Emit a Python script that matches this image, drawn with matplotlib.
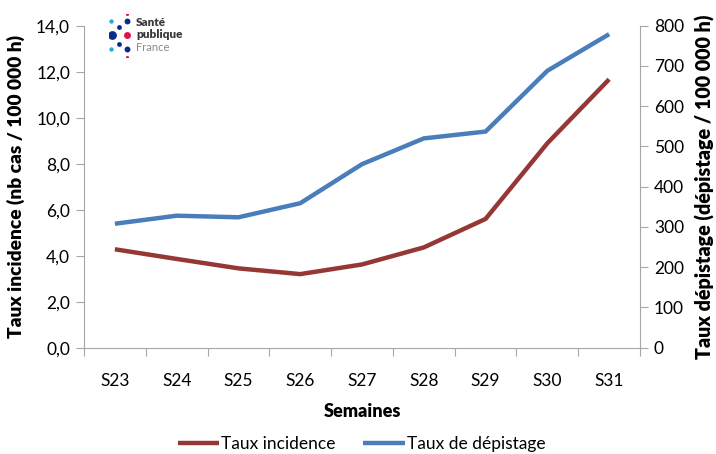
import numpy as np
import matplotlib
matplotlib.use("Agg")
import matplotlib.pyplot as plt
from matplotlib.ticker import FuncFormatter, MultipleLocator

semaines = ["S23", "S24", "S25", "S26", "S27", "S28", "S29", "S30", "S31"]
taux_incidence = [4.28, 3.86, 3.45, 3.20, 3.62, 4.36, 5.60, 8.89, 11.67]
taux_depistage = [308, 328, 324, 359, 456, 520, 537, 688, 779]

rouge = "#953735"
bleu = "#4a7ebb"
gris = "#a6a6a6"

plt.rcParams["font.family"] = ["Lato", "DejaVu Sans"]

fig = plt.figure(figsize=(7.16, 4.54), dpi=100)
ax = fig.add_axes([0.1173, 0.2341, 0.7766, 0.7093])
ax2 = ax.twinx()

x = np.arange(len(semaines))
l1, = ax.plot(x, taux_incidence, color=rouge, lw=3.2, solid_capstyle="butt", label="Taux incidence")
l2, = ax2.plot(x, taux_depistage, color=bleu, lw=3.2, solid_capstyle="butt", label="Taux de dépistage")

ax.set_xlim(-0.5, len(semaines) - 0.5)
ax.set_ylim(0, 14)
ax2.set_ylim(0, 800)
ax.yaxis.set_major_locator(MultipleLocator(2))
ax2.yaxis.set_major_locator(MultipleLocator(100))
ax.yaxis.set_major_formatter(FuncFormatter(lambda v, p: f"{v:.1f}".replace(".", ",")))

# ticks entre les categories, etiquettes au centre
ax.set_xticks(np.arange(-0.5, len(semaines), 1))
ax.set_xticklabels([])
ax.set_xticks(x, minor=True)
ax.set_xticklabels(semaines, minor=True)
ax.tick_params(axis="x", which="minor", length=0, pad=18, labelsize=12.5)
ax.tick_params(axis="x", which="major", length=6, color=gris, direction="out")
ax.tick_params(axis="y", length=6, color=gris, labelsize=12.5, pad=4)
ax2.tick_params(axis="y", length=6, color=gris, labelsize=12.5, pad=4)

for a in (ax, ax2):
    a.spines["top"].set_visible(False)
    for s in ("left", "right", "bottom"):
        a.spines[s].set_color(gris)
ax.spines["right"].set_visible(False)
ax2.spines["left"].set_visible(False)
ax2.spines["bottom"].set_visible(False)

ax.set_ylabel("Taux incidence (nb cas / 100 000 h)", fontsize=13.8, fontweight="heavy", labelpad=8)
ax2.set_ylabel("Taux dépistage (dépistage / 100 000 h)", fontsize=14.2, fontweight="heavy", labelpad=8)
ax.set_xlabel("Semaines", fontsize=13, fontweight="heavy", labelpad=10)

fig.legend([l1, l2], ["Taux incidence", "Taux de dépistage"], loc="center",
           bbox_to_anchor=(0.505, 0.022), ncol=2, frameon=False, fontsize=12.5,
           handlelength=2.4, handletextpad=0.1, columnspacing=1.6)

# logo Santé publique France
logo = fig.add_axes([0.152, 0.875, 0.05, 0.095])
logo.set_xlim(0, 10)
logo.set_ylim(0, 10)
logo.axis("off")
pts = [(1, 5, 40, "#0a2b8c"), (5, 5, 25, "#e0144c"), (5, 8.2, 18, "#0a2b8c"), (5, 1.8, 18, "#0a2b8c"),
       (2.8, 7, 12, "#0a2b8c"), (2.8, 3, 12, "#0a2b8c"), (-1, 5, 5, "#2aa6e0"), (0.5, 8.4, 10, "#2aa6e0"),
       (0.5, 1.8, 10, "#2aa6e0"), (5, 10, 5, "#e0144c"), (5, 0, 5, "#e0144c")]
for px, py, sz, c in pts:
    logo.scatter(px, py, s=sz, color=c, lw=0)
fig.text(0.19, 0.950, "Santé", fontsize=8.5, fontweight="heavy", color="#3a3a3a", va="center")
fig.text(0.19, 0.923, "publique", fontsize=8.5, fontweight="heavy", color="#3a3a3a", va="center")
fig.text(0.19, 0.895, "France", fontsize=8, color="#8a8a8a", va="center")

fig.savefig("out.png", dpi=100)
